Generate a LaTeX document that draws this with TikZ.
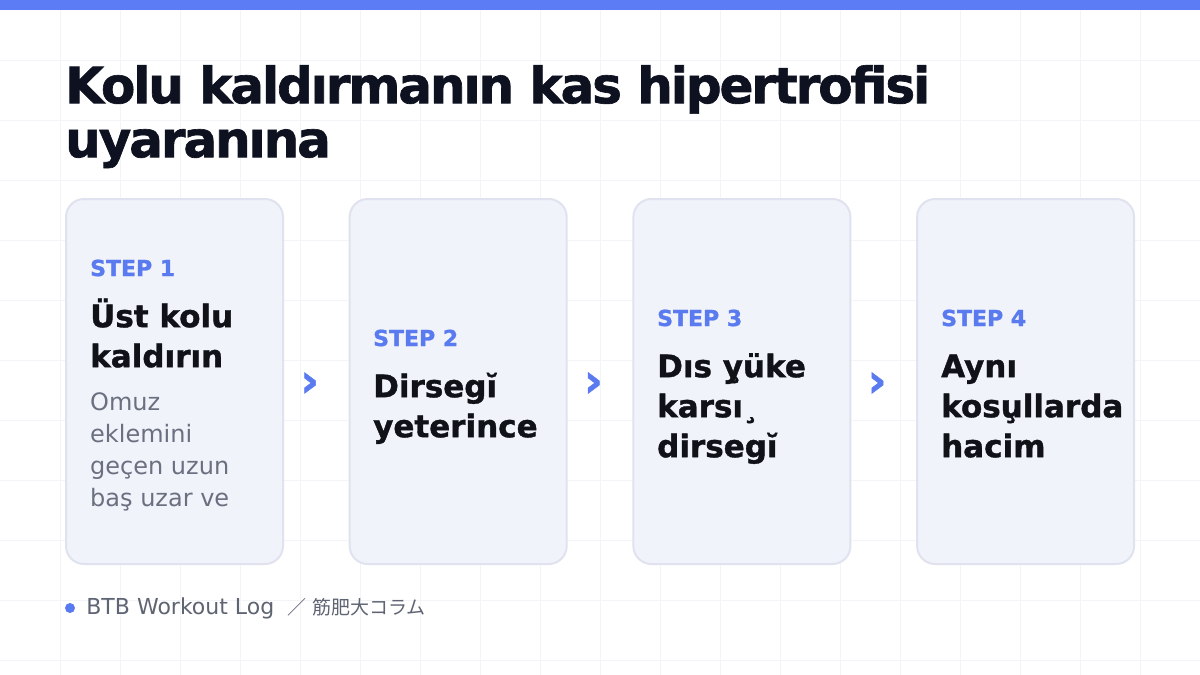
\documentclass[tikz,border=0pt]{standalone}
\usepackage{fontspec}
\setmainfont{DejaVu Sans}
\newfontfamily\titlefont{DejaVu Sans}[LetterSpace=-4.2, BoldFeatures={FakeBold=1.3}]
\newfontfamily\headfont{DejaVu Sans}[BoldFeatures={FakeBold=1.2}]
\newfontfamily\cjkfont{Noto Sans CJK JP}
\usetikzlibrary{positioning}

\definecolor{barblue}{HTML}{5B7CF5}
\definecolor{stepblue}{HTML}{5A7BF0}
\definecolor{titleink}{HTML}{0E1120}
\definecolor{headink}{HTML}{101218}
\definecolor{bodygray}{HTML}{6B7080}
\definecolor{footgray}{HTML}{5F6472}
\definecolor{cardfill}{HTML}{F1F3FB}
\definecolor{cardline}{HTML}{E0E3EF}
\definecolor{gridline}{HTML}{F3F4F7}

\newcommand{\lnstrut}[1]{\rule{0pt}{#1}}

\begin{document}
\begin{tikzpicture}[x=1pt,y=-1pt,
  card/.style={draw=cardline, line width=2pt, fill=cardfill, rounded corners=18pt,
    minimum width=217pt, minimum height=365pt, inner sep=0pt},
  steplbl/.style={anchor=base west, inner sep=0pt, text=stepblue,
    font=\headfont\bfseries\fontsize{22}{26}\selectfont},
  head/.style={anchor=north west, inner sep=0pt, align=left, text=headink,
    font=\headfont\bfseries\fontsize{31}{40}\selectfont},
  body/.style={anchor=north west, inner sep=0pt, align=left, text=bodygray,
    font=\fontsize{24}{32}\selectfont},
  chev/.style={inner sep=0pt, text=stepblue, font=\headfont\bfseries\fontsize{46}{46}\selectfont},
  dot/.style={circle, fill=stepblue, minimum size=10pt, inner sep=0pt},
  foot/.style={inner sep=0pt, text=footgray, font=\fontsize{22}{24}\selectfont}]

\useasboundingbox (0,0) rectangle (1200,675);
\fill[white] (0,0) rectangle (1200,675);

% background grid
\foreach \gx in {60,120,...,1140}
  \draw[gridline, line width=1pt] (\gx,0) -- (\gx,675);
\foreach \gy in {60,120,...,660}
  \draw[gridline, line width=1pt] (0,\gy) -- (1200,\gy);

% top bar
\fill[barblue] (0,0) rectangle (1200,10);

% title
\node[anchor=north west, inner sep=0pt, align=left, text=titleink,
  font=\titlefont\bfseries\fontsize{50}{54}\selectfont] (ttl) at (65,63)
  {\lnstrut{40pt}Kolu kaldırmanın kas hipertrofisi\\uyaranına};

% cards
\node[card] (c1) at (174.5,381.5) {};
\node[card, right=64.7pt of c1] (c2) {};
\node[card, right=64.7pt of c2] (c3) {};
\node[card, right=64.7pt of c3] (c4) {};

% arrows between cards
\node[chev, right=16pt of c1, yshift=-3pt] (a12) {›};
\node[chev, right=16pt of c2, yshift=-3pt] (a23) {›};
\node[chev, right=16pt of c3, yshift=-3pt] (a34) {›};

% step 1
\node[steplbl] (s1) at (90,276) {STEP 1};
\node[head] (h1) at (90,295) {\lnstrut{32pt}Üst kolu\\kaldırın};
\node[body] (b1) at (90,386) {\lnstrut{24pt}Omuz\\eklemini\\geçen uzun\\baş uzar ve};

% step 2
\node[steplbl] (s2) at (373,346) {STEP 2};
\node[head] (h2) at (373,365) {\lnstrut{32pt}Dirsegĭ\\yeterince};

% step 3
\node[steplbl] (s3) at (657,326) {STEP 3};
\node[head] (h3) at (657,345) {\lnstrut{32pt}Dıs y^^^^0327üke\\karsı¸\\dirsegĭ};

% step 4
\node[steplbl] (s4) at (941,326) {STEP 4};
\node[head] (h4) at (941,345) {\lnstrut{32pt}Aynı\\kosu^^^^0327llarda\\hacim};

% footer
\node[dot] (fdot) at (70,608) {};
\node[foot, right=11pt of fdot] (ftxt)
  {BTB Workout Log\hspace{13pt}{\cjkfont\fontsize{19}{24}\selectfont ／\hspace{6pt}筋肥大コラム}};
\end{tikzpicture}
\end{document}
